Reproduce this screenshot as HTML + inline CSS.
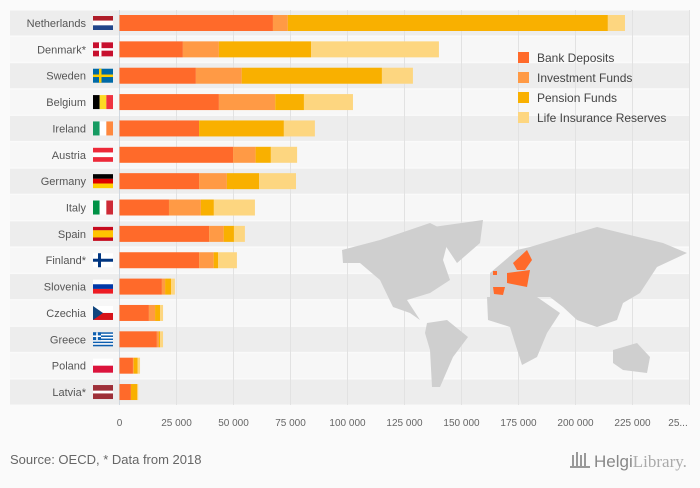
<!DOCTYPE html>
<html><head><meta charset="utf-8"><style>
body{margin:0;background:#fafafa;font-family:"Liberation Sans",sans-serif;}
svg text{font-family:"Liberation Sans",sans-serif;}
</style></head><body>
<svg id="c" width="700" height="483" xmlns="http://www.w3.org/2000/svg">
<rect width="700" height="483" fill="#fafafa"/>
<g id="bands"></g>
<g id="grid"></g>
<g id="map" fill="#cfcfcf">
<polygon points="342,250 380,240 430,223 450,233 443,260 450,280 430,293 407,300 420,320 410,313 393,307 380,280 360,263 343,263"/>
<polygon points="433,227 483,220 480,243 457,263"/>
<polygon points="427,323 447,320 468,337 453,357 440,387 432,387 430,350 425,333"/>
<polygon points="490,273 517,250 530,247 563,237 597,227 663,243 687,253 657,267 640,293 623,303 617,320 597,327 577,320 563,307 550,297 530,297 490,297"/>
<polygon points="487,297 537,297 560,313 547,333 537,357 522,365 515,343 510,327 488,320"/>
<polygon points="613,350 637,343 650,357 647,373 623,370 613,363"/>
<g fill="#ff6a2a"><polygon points="513,263 527,250 532,260 525,270 517,270"/><polygon points="507,273 530,270 527,287 507,283"/><polygon points="493,287 505,287 503,295 494,294"/><rect x="493" y="271" width="4" height="4"/></g>
</g>
<g id="bars"></g>
<g id="labels"></g>
<g id="legend"></g>
<text x="10" y="464" font-size="13" fill="#666">Source: OECD, * Data from 2018</text>
<g>
<g fill="#999"><rect x="572" y="455" width="2" height="12"/><rect x="576" y="452" width="2" height="15"/><rect x="580" y="455" width="2" height="12"/><rect x="584" y="453" width="2" height="14"/><rect x="570" y="466" width="20" height="2"/></g>
<text x="594" y="467" font-size="17" fill="#888">Helgi<tspan fill="#aaa" font-family="Liberation Serif">Library.</tspan></text>
</g>
</svg>
<script>
const countries=["Netherlands","Denmark*","Sweden","Belgium","Ireland","Austria","Germany","Italy","Spain","Finland*","Slovenia","Czechia","Greece","Poland","Latvia*"];
const bankDeposits=[67300,27800,33500,43600,34900,49800,34900,21700,39300,34900,18600,12900,16400,5900,5000];
const investmentFunds=[6500,15800,20100,24700,0,9900,12200,14000,6400,6400,1400,2700,900,300,0];
const pensionFunds=[140400,40400,61500,12600,37200,6700,14100,5700,4500,1900,2600,2200,500,1800,2800];
const lifeInsurance=[7500,56100,13600,21500,13600,11500,16200,18000,4800,8300,1700,1300,1300,1000,400];
const ticks=[0,25000,50000,75000,100000,125000,150000,175000,200000,225000,250000];
const tickLabels=["0","25 000","50 000","75 000","100 000","125 000","150 000","175 000","200 000","225 000","25..."];
const seriesNames=["Bank Deposits","Investment Funds","Pension Funds","Life Insurance Reserves"];
const colors=["#ff6a2a","#ff9a45","#f9b000","#fdd680"];
const NS="http://www.w3.org/2000/svg";
const x=v=>119.5+v*57/25000;
const rowY=i=>23+i*26.36;
function mk(t,a,p){const e=document.createElementNS(NS,t);for(const k in a)e.setAttribute(k,a[k]);p.appendChild(e);return e;}
const bands=document.getElementById('bands'),grid=document.getElementById('grid'),bars=document.getElementById('bars'),labels=document.getElementById('labels'),legend=document.getElementById('legend');
countries.forEach((c,i)=>{
 const b=mk('rect',{x:10,y:rowY(i)-12.5,width:680,height:25,fill:i%2?'#f7f7f7':'#ededed'},bands);
 
 
});
ticks.forEach((t,i)=>{
 const l=mk('line',{x1:x(t),x2:x(t),y1:10,y2:405,stroke:i?'#e2e2e2':'#d0d8e0','stroke-width':1},grid);
 
 
 const tx=mk('text',{x:i==10?678:x(t),y:426,'font-size':10,fill:'#666','text-anchor':'middle'},labels);
 tx.textContent=tickLabels[i];
 
 
});
const series=[bankDeposits,investmentFunds,pensionFunds,lifeInsurance];
countries.forEach((c,i)=>{
 let acc=0;
 series.forEach((s,k)=>{
  const v=s[i];
  const r=mk('rect',{x:x(acc),y:rowY(i)-8,width:Math.max(0,x(acc+v)-x(acc)),height:16,fill:colors[k]},bars);
  
  
  acc+=v;
 });
 const t=mk('text',{x:86,y:rowY(i)+4,'font-size':11,fill:'#555','text-anchor':'end'},labels);
 t.textContent=c;
 
 
 const f=mk('g',{},labels);
 
 
 const fx=93,fy=rowY(i)-7,w=20,h=14;
 const R=(a,b,cw,ch,col)=>mk('rect',{x:fx+a,y:fy+b,width:cw,height:ch,fill:col},f);
 const hs=(cs)=>cs.forEach((col,j)=>R(0,j*h/cs.length,w,h/cs.length,col));
 const vs=(cs)=>cs.forEach((col,j)=>R(j*w/cs.length,0,w/cs.length,h,col));
 switch(c){
  case"Netherlands":hs(["#ae1c28","#fff","#21468b"]);break;
  case"Denmark*":R(0,0,w,h,"#c8102e");R(6,0,2.5,h,"#fff");R(0,5.8,w,2.5,"#fff");break;
  case"Sweden":R(0,0,w,h,"#006aa7");R(6,0,2.5,h,"#fecc00");R(0,5.8,w,2.5,"#fecc00");break;
  case"Belgium":vs(["#000","#fdda24","#ef3340"]);break;
  case"Ireland":vs(["#169b62","#fff","#ff883e"]);break;
  case"Austria":hs(["#ed2939","#fff","#ed2939"]);break;
  case"Germany":hs(["#000","#dd0000","#ffce00"]);break;
  case"Italy":vs(["#009246","#fff","#ce2b37"]);break;
  case"Spain":hs(["#c60b1e","#ffc400","#ffc400","#c60b1e"]);R(0,3.5,w,7,"#ffc400");break;
  case"Finland*":R(0,0,w,h,"#fff");R(5,0,3,h,"#003580");R(0,5.5,w,3,"#003580");break;
  case"Slovenia":hs(["#fff","#0038a8","#ed1c24"]);break;
  case"Czechia":hs(["#fff","#d7141a"]);mk('polygon',{points:`${fx},${fy} ${fx+10},${fy+7} ${fx},${fy+14}`,fill:"#11457e"},f);break;
  case"Greece":for(let j=0;j<9;j++)R(0,j*h/9,w,h/9,j%2?"#fff":"#0d5eaf");R(0,0,8,7.8,"#0d5eaf");R(3.2,0,1.6,7.8,"#fff");R(0,3.1,8,1.6,"#fff");break;
  case"Poland":hs(["#fff","#dc143c"]);break;
  case"Latvia*":R(0,0,w,h,"#9e3039");R(0,5.6,w,2.8,"#fff");break;
 }
});
seriesNames.forEach((n,k)=>{
 const g=mk('g',{},legend);
 
 
 mk('rect',{x:518,y:52+k*20,width:11,height:11,fill:colors[k]},g);
 const t=mk('text',{x:537,y:62+k*20,'font-size':12,fill:'#444'},g);
 t.textContent=n;
});
</script>
</body></html>
